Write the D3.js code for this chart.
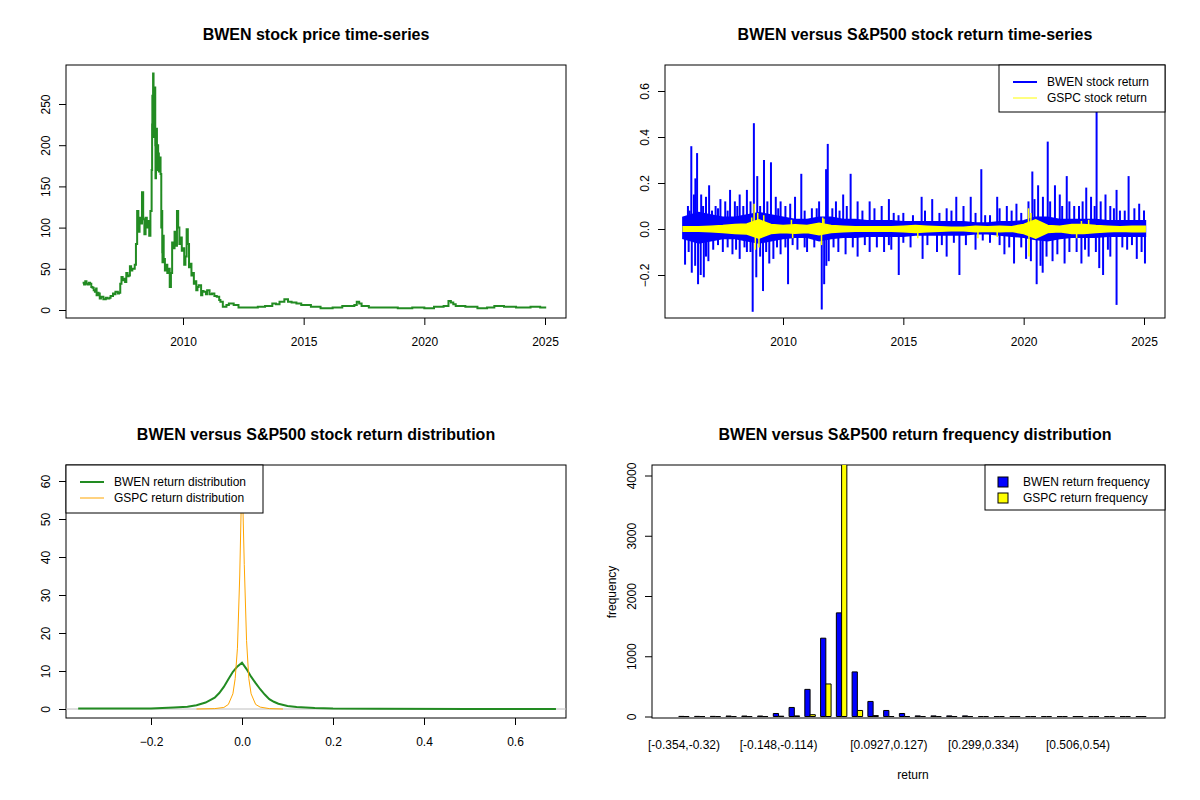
<!DOCTYPE html>
<html>
<head>
<meta charset="utf-8">
<script src="https://cdn.jsdelivr.net/npm/d3@7"></script>
<style>
body { margin: 0; background: #fff; }
text { font-family: "Liberation Sans", Arial, sans-serif; }
.title { font-size: 16px; font-weight: bold; }
.tick text { font-size: 12px; fill: #000; }
.tick line { stroke: #000; }
</style>
</head>
<body>
<div id="vis"></div>
<script>
// price series: [decimal year, price]
const priceSeries = [
  [2005.84,33],[2005.9,31],[2005.95,35],[2006.0,32],[2006.05,31],[2006.1,33],[2006.15,32],[2006.2,28],[2006.25,27],[2006.3,24],[2006.35,22],[2006.4,26],[2006.42,18],[2006.47,21],[2006.5,20],
  [2006.55,14],[2006.6,16],[2006.7,13],[2006.8,15],[2006.85,14],[2006.95,15],[2007.0,17],[2007.1,20],[2007.15,19],[2007.2,22],[2007.3,20],[2007.35,21],[2007.4,32],
  [2007.45,40],[2007.5,36],[2007.55,38],[2007.6,34],[2007.65,45],[2007.7,41],[2007.75,42],[2007.8,53],[2007.85,48],[2007.9,50],[2008.0,55],[2008.05,80],
  [2008.1,120],[2008.15,95],[2008.2,112],[2008.25,105],[2008.3,143],[2008.35,110],[2008.4,92],[2008.45,112],
  [2008.5,100],[2008.55,108],[2008.6,90],[2008.65,120],[2008.7,170],[2008.72,225],[2008.73,260],[2008.75,230],[2008.76,287],[2008.78,240],
  [2008.8,210],[2008.82,250],[2008.83,270],[2008.85,200],[2008.86,160],[2008.88,215],[2008.9,220],[2008.92,175],[2008.93,170],[2008.95,200],[2008.97,190],[2009.0,168],[2009.03,185],
  [2009.07,165],[2009.1,100],[2009.12,120],[2009.14,70],[2009.15,58],[2009.18,90],[2009.2,62],[2009.25,48],[2009.3,55],
  [2009.35,45],[2009.4,50],[2009.45,28],[2009.5,45],[2009.55,82],[2009.6,75],[2009.65,95],[2009.7,78],
  [2009.75,120],[2009.8,100],[2009.85,80],[2009.9,88],[2009.95,72],[2010.0,75],[2010.05,55],[2010.1,65],
  [2010.15,98],[2010.2,80],[2010.25,52],[2010.3,56],[2010.35,42],[2010.4,45],[2010.45,32],[2010.5,35],[2010.55,24],[2010.6,28],[2010.65,30],[2010.75,18],
  [2010.8,23],[2010.85,22],[2010.95,19],[2011.0,24],[2011.1,19],[2011.2,20],[2011.3,17],[2011.4,16],[2011.5,12],[2011.55,10],[2011.65,4],[2011.8,6],[2011.9,8],[2012.1,6],[2012.3,3],
  [2012.8,3],[2013.1,4],[2013.4,5],[2013.7,8],[2013.85,7],[2014.0,10],[2014.2,13],[2014.35,10],[2014.5,9],[2014.7,8],[2014.9,6],[2015.3,4],[2015.7,2],[2016.2,3],[2016.6,5],
  [2017.1,6],[2017.2,10],[2017.3,8],[2017.4,5],[2017.7,3],[2018.3,3],[2018.9,2],[2019.5,3],[2020.0,2],[2020.4,4],[2020.8,5],
  [2021.0,11],[2021.1,9],[2021.2,7],[2021.3,5],[2021.7,4],[2022.2,2],[2022.6,3],[2022.9,5],[2023.3,4],[2023.8,3],
  [2024.4,4],[2024.8,3],[2025.05,3]
];

// return envelope (typical daily range) and spikes
const bandYears = [2005.85,2006.5,2007,2007.5,2008,2008.5,2009,2009.5,2010,2010.5,2011,2011.5,2012,2012.5,2013,2013.5,2014,2014.5,2015,2015.5,2016,2016.5,2017,2017.5,2018,2018.5,2019,2019.5,2020,2020.5,2021,2021.5,2022,2022.5,2023,2023.5,2024,2024.5,2025.05];
const bwenBandHi = [0.05,0.07,0.06,0.05,0.05,0.06,0.07,0.06,0.05,0.04,0.04,0.05,0.05,0.04,0.04,0.035,0.035,0.035,0.03,0.03,0.03,0.03,0.03,0.03,0.025,0.025,0.03,0.03,0.035,0.05,0.05,0.04,0.04,0.04,0.04,0.035,0.035,0.035,0.035];
const bwenBandLo = [-0.04,-0.06,-0.05,-0.04,-0.04,-0.05,-0.06,-0.05,-0.04,-0.035,-0.035,-0.05,-0.04,-0.035,-0.035,-0.03,-0.03,-0.03,-0.03,-0.025,-0.025,-0.025,-0.025,-0.025,-0.02,-0.02,-0.025,-0.03,-0.035,-0.045,-0.05,-0.04,-0.035,-0.035,-0.035,-0.03,-0.03,-0.03,-0.03];
const gspcBandHi = [0.01,0.01,0.012,0.015,0.02,0.022,0.04,0.02,0.015,0.018,0.015,0.025,0.015,0.012,0.01,0.01,0.01,0.01,0.012,0.015,0.012,0.01,0.008,0.008,0.012,0.01,0.012,0.01,0.02,0.04,0.015,0.012,0.02,0.02,0.015,0.012,0.01,0.012,0.012];
const gspcBandLo = [-0.01,-0.01,-0.012,-0.015,-0.02,-0.022,-0.04,-0.02,-0.015,-0.018,-0.015,-0.025,-0.015,-0.012,-0.01,-0.01,-0.01,-0.01,-0.012,-0.015,-0.012,-0.01,-0.008,-0.008,-0.012,-0.01,-0.012,-0.01,-0.02,-0.04,-0.015,-0.012,-0.02,-0.02,-0.015,-0.012,-0.01,-0.012,-0.012];
const bwenSpikes = [
  [2006.19,0.36],[2006.43,0.33],[2006.36,0.22],[2006.93,0.19],[2008.79,0.46],[2008.93,0.23],[2009.21,0.30],[2009.5,0.29],
  [2010.76,0.24],[2011.86,0.37],[2011.79,0.26],[2012.81,0.24],[2015.76,0.14],[2018.24,0.26],[2020.36,0.25],[2021.0,0.38],
  [2021.79,0.23],[2023.03,0.53],[2023.86,0.17],[2024.36,0.23],
  [2006.05,0.1],[2006.3,0.15],[2006.6,0.15],[2006.8,0.14],[2007.2,0.1],[2007.4,0.13],[2007.6,0.12],[2007.8,0.17],
  [2008.0,0.12],[2008.2,0.15],[2008.5,0.17],[2009.7,0.14],[2009.9,0.12],[2010.3,0.11],[2010.5,0.14],[2011.2,0.09],
  [2011.5,0.12],[2012.2,0.12],[2012.5,0.15],[2013.1,0.12],[2013.6,0.12],[2014.1,0.1],[2014.4,0.13],[2015.0,0.07],
  [2016.2,0.13],[2016.8,0.09],[2017.2,0.14],[2017.5,0.1],[2017.8,0.14],[2018.6,0.06],[2018.9,0.14],[2019.3,0.1],
  [2019.7,0.11],[2020.2,0.12],[2020.6,0.19],[2020.8,0.14],[2021.3,0.19],[2021.5,0.15],[2022.3,0.1],[2022.6,0.18],
  [2022.8,0.14],[2023.4,0.15],[2023.6,0.1],[2024.0,0.08],[2024.8,0.11],[2025.0,0.08],
  [2006.12,0.08],[2006.68,0.1],[2007.05,0.08],[2007.3,0.09],[2007.7,0.08],[2008.1,0.1],[2008.35,0.1],[2008.65,0.12],
  [2009.05,0.1],[2009.35,0.12],[2009.8,0.09],[2010.1,0.1],[2010.9,0.08],[2011.4,0.09],[2012.05,0.09],[2012.35,0.08],
  [2012.65,0.1],[2013.3,0.08],[2013.8,0.09],[2014.6,0.07],[2014.8,0.06],[2015.4,0.06],[2015.9,0.08],[2016.5,0.07],
  [2017.0,0.08],[2018.0,0.07],[2018.4,0.06],[2019.0,0.09],[2019.5,0.08],[2019.9,0.07],[2020.45,0.13],[2021.1,0.12],
  [2021.6,0.1],[2021.9,0.12],[2022.1,0.1],[2022.45,0.12],[2022.95,0.1],[2023.2,0.12],[2023.75,0.09],[2024.2,0.08],[2024.6,0.09],
  [2005.93,-0.155],[2006.21,-0.19],[2006.47,-0.24],[2006.71,-0.21],[2008.74,-0.36],[2008.89,-0.21],[2009.17,-0.27],[2009.43,-0.15],
  [2010.21,-0.24],[2011.61,-0.35],[2011.71,-0.24],[2014.81,-0.2],[2017.33,-0.2],[2020.54,-0.24],[2020.79,-0.19],[2023.14,-0.17],
  [2023.86,-0.33],[2025.04,-0.15],
  [2006.9,-0.14],[2007.1,-0.09],[2007.5,-0.1],[2007.9,-0.11],[2008.2,-0.13],[2008.5,-0.1],[2009.6,-0.13],[2009.9,-0.11],
  [2010.6,-0.09],[2011.0,-0.1],[2011.9,-0.14],[2012.3,-0.1],[2012.6,-0.11],[2013.1,-0.12],[2013.6,-0.1],[2014.2,-0.1],
  [2014.5,-0.09],[2015.3,-0.08],[2015.8,-0.13],[2016.4,-0.1],[2016.8,-0.12],[2017.6,-0.07],[2018.0,-0.09],[2018.6,-0.06],
  [2019.2,-0.11],[2019.6,-0.15],[2020.1,-0.13],[2020.7,-0.16],[2021.2,-0.14],[2021.7,-0.15],[2022.4,-0.15],[2022.7,-0.12],
  [2023.3,-0.2],[2023.6,-0.12],[2024.3,-0.09],[2024.7,-0.13],[2024.9,-0.1],
  [2006.08,-0.1],[2006.35,-0.16],[2006.58,-0.2],[2006.8,-0.12],[2007.3,-0.07],[2007.7,-0.08],[2008.05,-0.09],[2008.4,-0.08],
  [2008.65,-0.1],[2009.05,-0.12],[2009.3,-0.1],[2009.75,-0.08],[2010.1,-0.08],[2010.4,-0.07],[2010.9,-0.08],[2011.3,-0.08],
  [2011.8,-0.16],[2012.1,-0.08],[2012.9,-0.08],[2013.4,-0.07],[2013.9,-0.08],[2014.4,-0.07],[2015.0,-0.06],[2016.0,-0.07],
  [2016.6,-0.07],[2017.1,-0.06],[2018.3,-0.05],[2019.0,-0.07],[2019.4,-0.08],[2019.9,-0.08],[2020.3,-0.14],[2020.95,-0.12],
  [2021.4,-0.11],[2021.9,-0.1],[2022.2,-0.1],[2022.55,-0.09],[2023.0,-0.1],[2023.5,-0.09],[2024.1,-0.08],[2024.5,-0.07]
];
const gspcSpikes = [[2008.8,0.11],[2008.85,-0.09],[2008.95,0.07],[2009.0,-0.08],[2011.6,-0.07],[2011.65,0.05],[2020.2,0.09],[2020.22,-0.12],[2020.3,0.07],[2022.2,-0.04],[2015.6,-0.04],[2018.1,-0.04],
  [2008.7,0.05],[2009.2,0.06],[2010.35,0.04],[2010.4,-0.04],[2011.7,0.045],[2018.9,-0.035],[2022.7,0.04],[2022.4,0.035]];

// densities: [return, density]
const bwenDensity = [[-0.36,0.1],[-0.2,0.15],[-0.15,0.4],[-0.12,0.6],[-0.1,1.0],[-0.08,1.7],[-0.06,3.0],[-0.05,4.2],[-0.04,5.8],[-0.03,7.8],[-0.02,9.8],[-0.01,11.2],[0,12.2],[0.01,10.5],[0.02,8.5],[0.03,6.8],[0.04,5.2],[0.05,3.8],[0.06,2.6],[0.07,1.9],[0.08,1.4],[0.1,0.8],[0.12,0.5],[0.14,0.4],[0.16,0.25],[0.18,0.2],[0.2,0.1],[0.3,0.05],[0.5,0.03],[0.69,0.03]];
const gspcDensity = [[-0.1,0],[-0.06,0.1],[-0.04,0.4],[-0.03,1.2],[-0.02,4],[-0.015,8],[-0.01,16],[-0.005,35],[0,63],[0.005,38],[0.01,18],[0.015,8],[0.02,4],[0.03,1.2],[0.04,0.5],[0.06,0.1],[0.09,0]];

// histogram counts, 30 bins
const bwenCounts = [2,2,2,8,8,8,50,150,450,1300,1720,740,250,100,50,10,10,10,10,0,0,0,0,0,0,0,0,0,0,0];
const gspcCounts = [0,0,0,0,0,0,5,10,30,540,4300,100,15,0,0,0,0,0,0,0,0,0,0,0,0,0,0,0,0,0];
const binLabels = [[0,"[-0.354,-0.32)"],[6,"[-0.148,-0.114)"],[13,"[0.0927,0.127)"],[19,"[0.299,0.334)"],[25,"[0.506,0.54)"]];

const svg = d3.select('#vis').append('svg').attr('width',1200).attr('height',800);

function box(x0,x1,y0,y1,id){
  svg.append('clipPath').attr('id',id).append('rect').attr('x',x0).attr('y',y0).attr('width',x1-x0).attr('height',y1-y0);
  svg.append('rect').attr('x',x0).attr('y',y0).attr('width',x1-x0).attr('height',y1-y0)
    .attr('fill','none').attr('stroke','#000').attr('stroke-width',1);
}
function title(x,txt){ svg.append('text').attr('class','title').attr('x',x).attr('y',txt[1]).attr('text-anchor','middle').text(txt[0]); }
function xAxis(scale,y,ticks,fmt){
  const g = svg.append('g').attr('transform','translate(0,'+y+')')
    .call(d3.axisBottom(scale).tickValues(ticks).tickFormat(fmt).tickSize(7).tickSizeOuter(0).tickPadding(12));
  g.select('.domain').remove();
}
function yAxis(scale,x,ticks,fmt){
  const g = svg.append('g').attr('transform','translate('+x+',0)')
    .call(d3.axisLeft(scale).tickValues(ticks).tickFormat(fmt).tickSize(7).tickSizeOuter(0));
  g.select('.domain').remove();
  g.selectAll('.tick text').attr('transform','rotate(-90)').attr('x',0).attr('y',-16).attr('dy','0').attr('text-anchor','middle');
}
function legend(x0,x1,y0,y1,items){
  svg.append('rect').attr('x',x0).attr('y',y0).attr('width',x1-x0).attr('height',y1-y0).attr('fill','#fff').attr('stroke','#000');
  items.forEach((it,i)=>{
    const yy = y0+17+i*16;
    if(it.sq){
      svg.append('rect').attr('x',x0+13).attr('y',yy-5).attr('width',10).attr('height',10).attr('fill',it.color).attr('stroke','#000');
    } else {
      svg.append('line').attr('x1',x0+14).attr('x2',x0+38).attr('y1',yy).attr('y2',yy).attr('stroke',it.color).attr('stroke-width',it.w);
    }
    svg.append('text').attr('x',x0+(it.sq?38:48)).attr('y',yy+4).attr('font-size','12px').text(it.label);
  });
}

// ---- panel 1: price
const X1 = d3.scaleLinear().domain([2010,2025]).range([183,545]);
const Y1 = d3.scaleLinear().domain([0,250]).range([310,104]);
box(66,566,65,318,'c1');
title(316,["BWEN stock price time-series",40]);
svg.append('path').datum(priceSeries).attr('clip-path','url(#c1)')
  .attr('d',d3.line().x(d=>X1(d[0])).y(d=>Y1(d[1])).curve(d3.curveStepAfter))
  .attr('fill','none').attr('stroke','#228B22').attr('stroke-width',2);
xAxis(X1,318,[2010,2015,2020,2025],d3.format('d'));
yAxis(Y1,66,[0,50,100,150,200,250],d3.format('d'));

// ---- panel 2: returns
const X2 = d3.scaleLinear().domain([2010,2025]).range([783,1144]);
const Y2 = d3.scaleLinear().domain([0,0.2]).range([229,183]);
box(665,1165,65,318,'c2');
title(915,["BWEN versus S&P500 stock return time-series",40]);
const g2 = svg.append('g').attr('clip-path','url(#c2)');
const band = (hi,lo)=> d3.area().x((d,i)=>X2(bandYears[i])).y0((d,i)=>Y2(lo[i])).y1(d=>Y2(d))(hi);
g2.append('path').attr('d',band(bwenBandHi,bwenBandLo)).attr('fill','#0000FF').attr('stroke','#0000FF').attr('stroke-width',2);
g2.selectAll('.bs').data(bwenSpikes).enter().append('line')
  .attr('x1',d=>X2(d[0])).attr('x2',d=>X2(d[0])).attr('y1',Y2(0)).attr('y2',d=>Y2(d[1]))
  .attr('stroke','#0000FF').attr('stroke-width',2);
g2.append('path').attr('d',band(gspcBandHi,gspcBandLo)).attr('fill','#FFFF00').attr('stroke','#FFFF00').attr('stroke-width',1.5);
g2.selectAll('.gs').data(gspcSpikes).enter().append('line')
  .attr('x1',d=>X2(d[0])).attr('x2',d=>X2(d[0])).attr('y1',Y2(0)).attr('y2',d=>Y2(d[1]))
  .attr('stroke','#FFFF00').attr('stroke-width',1.5);
xAxis(X2,318,[2010,2015,2020,2025],d3.format('d'));
yAxis(Y2,665,[-0.2,0,0.2,0.4,0.6],d3.format('.1f'));
legend(999,1165,65,112,[{color:'#0000FF',w:2,label:'BWEN stock return'},{color:'#FFFF00',w:1,label:'GSPC stock return'}]);

// ---- panel 3: densities
const X3 = d3.scaleLinear().domain([0,0.2]).range([242,333]);
const Y3 = d3.scaleLinear().domain([0,10]).range([709,671]);
box(66,566,465,718,'c3');
title(316,["BWEN versus S&P500 stock return distribution",440]);
const g3 = svg.append('g').attr('clip-path','url(#c3)');
g3.append('line').attr('x1',66).attr('x2',566).attr('y1',Y3(0)).attr('y2',Y3(0)).attr('stroke','#bebebe');
const dl = d3.line().x(d=>X3(d[0])).y(d=>Y3(d[1]));
g3.append('path').datum(bwenDensity).attr('d',dl).attr('fill','none').attr('stroke','#228B22').attr('stroke-width',2);
g3.append('path').datum(gspcDensity).attr('d',dl).attr('fill','none').attr('stroke','#FFA500').attr('stroke-width',1);
xAxis(X3,718,[-0.2,0,0.2,0.4,0.6],d3.format('.1f'));
yAxis(Y3,66,[0,10,20,30,40,50,60],d3.format('d'));
legend(66,263,465,513,[{color:'#228B22',w:2,label:'BWEN return distribution'},{color:'#FFA500',w:1,label:'GSPC return distribution'}]);

// ---- panel 4: histogram
const groups = d3.range(bwenCounts.length);
const X4 = d3.scaleLinear().domain([0,29]).range([684,684+29*15.76]);
const bw = 15.76/3;
const Y4 = d3.scaleLinear().domain([0,4000]).range([716.5,475.5]);
box(652,1165,465,718,'c4');
title(915,["BWEN versus S&P500 return frequency distribution",440]);
const g4 = svg.append('g').attr('clip-path','url(#c4)');
function bars(counts,off,color){
  g4.selectAll(null).data(groups).enter().append('path')
    .attr('d',i=>{const x=X4(i)+off, y=Y4(counts[i]), y0=Y4(0);
      return counts[i]>0 ? `M${x},${y0}V${y}H${x+bw}V${y0}Z` : `M${x},${y0}H${x+bw}`;})
    .attr('fill',color).attr('stroke','#000').attr('stroke-width',1);
}
bars(bwenCounts,-bw,'#0000FF');
bars(gspcCounts,0,'#FFFF00');
yAxis(Y4,652,[0,1000,2000,3000,4000],d3.format('d'));
svg.selectAll('.bl').data(binLabels).enter().append('text')
  .attr('x',d=>X4(d[0])).attr('y',749).attr('text-anchor','middle').attr('font-size','12px').text(d=>d[1]);
svg.append('text').attr('x',913).attr('y',779).attr('text-anchor','middle').attr('font-size','12px').text('return');
svg.append('text').attr('transform','translate(616,592) rotate(-90)').attr('text-anchor','middle').attr('font-size','12px').text('frequency');
legend(985,1165,465,510,[{color:'#0000FF',sq:true,label:'BWEN return frequency'},{color:'#FFFF00',sq:true,label:'GSPC return frequency'}]);
</script>
</body>
</html>
